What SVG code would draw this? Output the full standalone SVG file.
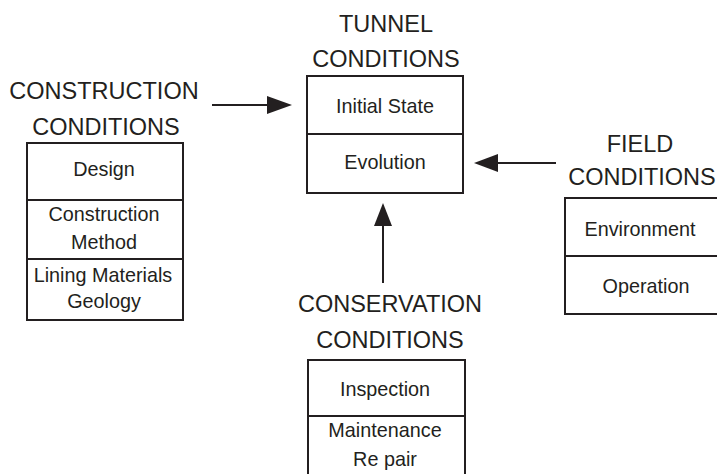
<svg xmlns="http://www.w3.org/2000/svg" width="717" height="474" viewBox="0 0 717 474">
<defs>
<style>
.box{fill:#fff;stroke:#231f20;stroke-width:2}
.div{stroke:#231f20;stroke-width:2}
.title{font-family:"Liberation Sans",Arial,sans-serif;font-size:23.5px;fill:#231f20;text-anchor:middle}
.lbl{font-family:"Liberation Sans",Arial,sans-serif;font-size:19.8px;fill:#231f20;text-anchor:middle}
.conn{stroke:#231f20;stroke-width:2;fill:none}
.head{fill:#231f20}
</style>
</defs>
<rect width="717" height="474" fill="#fff"/>
<g id="construction">
<text class="title" x="104" y="99">CONSTRUCTION</text>
<text class="title" x="106" y="135">CONDITIONS</text>
<rect class="box" x="27" y="143" width="156" height="177"/>
<line class="div" x1="27" y1="200" x2="183" y2="200"/>
<line class="div" x1="27" y1="259" x2="183" y2="259"/>
<text class="lbl" x="104" y="176">Design</text>
<text class="lbl" x="104" y="221">Construction</text>
<text class="lbl" x="104" y="249">Method</text>
<text class="lbl" x="103" y="282">Lining Materials</text>
<text class="lbl" x="104" y="308">Geology</text>
</g>
<g id="tunnel">
<text class="title" x="386" y="32">TUNNEL</text>
<text class="title" x="386" y="67">CONDITIONS</text>
<rect class="box" x="307" y="76" width="156" height="117"/>
<line class="div" x1="307" y1="134" x2="463" y2="134"/>
<text class="lbl" x="385" y="113">Initial State</text>
<text class="lbl" x="385" y="169">Evolution</text>
</g>
<g id="field">
<text class="title" x="640" y="152">FIELD</text>
<text class="title" x="642" y="185">CONDITIONS</text>
<rect class="box" x="565" y="198" width="170" height="116"/>
<line class="div" x1="565" y1="256" x2="735" y2="256"/>
<text class="lbl" x="640" y="236">Environment</text>
<text class="lbl" x="646" y="293">Operation</text>
</g>
<g id="conservation">
<text class="title" x="390" y="312">CONSERVATION</text>
<text class="title" x="390" y="348">CONDITIONS</text>
<rect class="box" x="308" y="360" width="157" height="130"/>
<line class="div" x1="308" y1="416" x2="465" y2="416"/>
<text class="lbl" x="385" y="396">Inspection</text>
<text class="lbl" x="385" y="437">Maintenance</text>
<text class="lbl" x="385" y="466">Re pair</text>
</g>
<g id="connectors">
<line class="conn" x1="212" y1="105" x2="270" y2="105"/>
<polygon class="head" points="292,105 267,96 267,114"/>
<line class="conn" x1="556" y1="163" x2="496" y2="163"/>
<polygon class="head" points="474,163 498,154 498,172"/>
<line class="conn" x1="383" y1="283" x2="383" y2="224"/>
<polygon class="head" points="383,203 374,226 392,226"/>
</g>
</svg>
